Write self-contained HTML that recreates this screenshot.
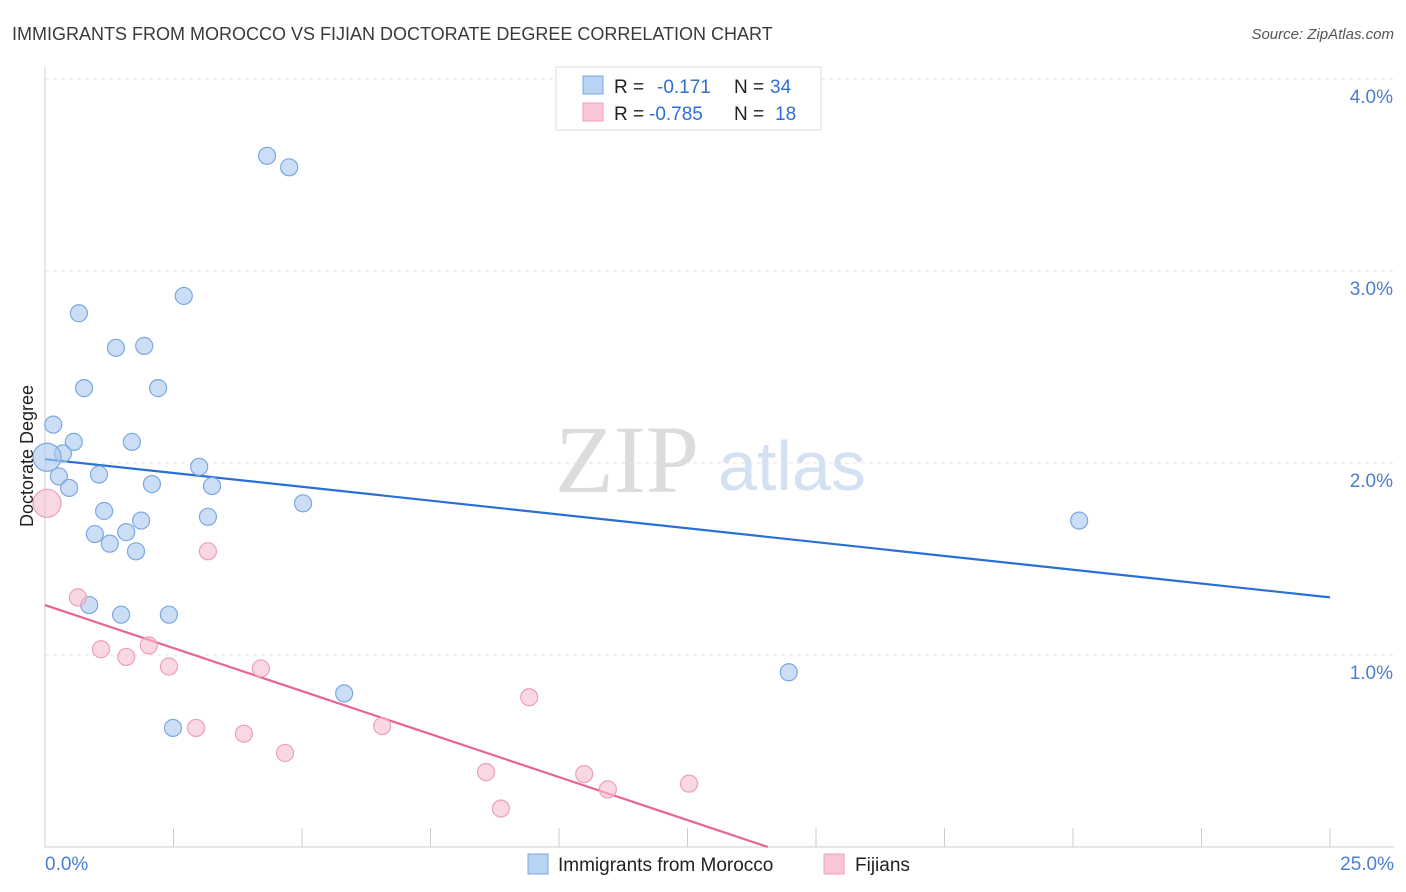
<!DOCTYPE html>
<html><head><meta charset="utf-8"><style>
body{margin:0;background:#fff;font-family:"Liberation Sans",sans-serif;}
svg{display:block}
</style></head><body>
<svg id="c" width="1406" height="892">
<text x="12" y="40" font-size="18" fill="#3a3a3a">IMMIGRANTS FROM MOROCCO VS FIJIAN DOCTORATE DEGREE CORRELATION CHART</text>
<text x="1394" y="39" font-size="15" fill="#555" font-style="italic" text-anchor="end">Source: ZipAtlas.com</text>
<g>
<text x="555" y="492" font-family="Liberation Serif,serif" font-size="96" fill="#dcdcdc">ZIP</text>
<text x="718" y="490" font-size="70" fill="#d3e1f3">atlas</text>
</g>
<g id="grid"></g><g id="axes"></g><g id="trend"></g><g id="pts"></g>
<text x="33" y="456" font-size="18" fill="#222" text-anchor="middle" transform="rotate(-90 33 456)">Doctorate Degree</text>
<g>
<rect x="556" y="67" width="265" height="63" fill="#fff" stroke="#ddd"/>
<rect x="583" y="76" width="20" height="18" fill="#b9d3f3" stroke="#7aa8e0"/>
<rect x="583" y="103" width="20" height="18" fill="#f9c6d5" stroke="#eda0b8"/>
<text x="614" y="93" font-size="19" fill="#222">R = <tspan fill="#2f6fd0" x="657">-0.171</tspan><tspan fill="#222" x="734">N = </tspan><tspan fill="#2f6fd0" x="770">34</tspan></text>
<text x="614" y="120" font-size="19" fill="#222">R = <tspan fill="#2f6fd0" x="649">-0.785</tspan><tspan fill="#222" x="734">N = </tspan><tspan fill="#2f6fd0" x="775">18</tspan></text>
</g>
<g>
<rect x="528" y="854" width="20" height="20" fill="#b9d3f3" stroke="#7aa8e0"/>
<text x="558" y="871" font-size="19" fill="#222">Immigrants from Morocco</text>
<rect x="824" y="854" width="20" height="20" fill="#f9c6d5" stroke="#eda0b8"/>
<text x="855" y="871" font-size="19" fill="#222">Fijians</text>
</g>
</svg>
<script>
const yTicks=[1,2,3,4];
const yTickLabels=["1.0%","2.0%","3.0%","4.0%"];
const xTickLabels=["0.0%","25.0%"];
const moroccoX=[4.32,4.75,2.70,0.66,1.38,1.93,0.76,2.20,0.16,0.56,1.69,0.35,0.04,0.27,1.05,3.00,0.47,2.08,3.25,1.15,3.17,5.02,1.87,0.97,1.58,1.26,1.77,0.86,1.48,2.41,2.49,5.82,14.47,20.12];
const moroccoY=[3.60,3.54,2.87,2.78,2.60,2.61,2.39,2.39,2.20,2.11,2.11,2.05,2.03,1.93,1.94,1.98,1.87,1.89,1.88,1.75,1.72,1.79,1.70,1.63,1.64,1.58,1.54,1.26,1.21,1.21,0.62,0.80,0.91,1.70];
const moroccoBig=[12];
const fijiX=[0.04,0.64,3.17,1.09,1.58,2.02,2.41,4.20,2.94,3.87,4.67,6.56,9.42,8.58,8.87,10.49,10.95,12.53];
const fijiY=[1.79,1.30,1.54,1.03,0.99,1.05,0.94,0.93,0.62,0.59,0.49,0.63,0.78,0.39,0.20,0.38,0.30,0.33];
const fijiBig=[0];
const moroccoTrend=[2.02,1.30];
const fijiTrend=[1.26,-0.0896];
const NS="http://www.w3.org/2000/svg";
const X=v=>45+v/25*1285, Y=v=>847-v*192;
function mk(p,t,a){const e=document.createElementNS(NS,t);for(const k in a)e.setAttribute(k,a[k]);document.getElementById(p).appendChild(e);return e;}
yTicks.forEach((t,i)=>{
 const l=mk('grid','line',{x1:45,x2:1394,y1:Y(t),y2:Y(t),stroke:'#e3e3e3','stroke-dasharray':'4,4'});
 
 
 const tx=mk('grid','text',{x:1393,y:Y(t)+24,'font-size':19,fill:'#4a7fd0','text-anchor':'end'});
 tx.textContent=yTickLabels[i];
 
 
});
mk('axes','line',{x1:45,x2:45,y1:67,y2:847,stroke:'#ccc'});
mk('axes','line',{x1:45,x2:1394,y1:847,y2:847,stroke:'#ccc'});
for(let i=1;i<=10;i++){const t=mk('axes','line',{x1:X(i*2.5),x2:X(i*2.5),y1:828,y2:847,stroke:'#ccc'});
 
 }
[[0,'start',45],[1,'end',1394]].forEach(([i,a,x])=>{const t=mk('axes','text',{x:x,y:870,'font-size':19,fill:'#4a7fd0','text-anchor':a});t.textContent=xTickLabels[i];
 
 });
const bl=mk('trend','line',{x1:X(0),y1:Y(moroccoTrend[0]),x2:X(25),y2:Y(moroccoTrend[1]),stroke:'#2a6fd6','stroke-width':2.2});


const xe=-fijiTrend[0]/fijiTrend[1];
const pl=mk('trend','line',{x1:X(0),y1:Y(fijiTrend[0]),x2:X(xe),y2:Y(0),stroke:'#e8638f','stroke-width':2.2});


moroccoX.forEach((x,i)=>{const c=mk('pts','circle',{cx:X(x),cy:Y(moroccoY[i]),r:moroccoBig.includes(i)?14:8.5,fill:'rgba(170,200,240,0.6)',stroke:'#7aa8e0','stroke-width':1.2});
 
 });
fijiX.forEach((x,i)=>{const c=mk('pts','circle',{cx:X(x),cy:Y(fijiY[i]),r:fijiBig.includes(i)?14:8.5,fill:'rgba(247,190,208,0.6)',stroke:'#eda0b8','stroke-width':1.2});
 
 });
</script>
</body></html>
